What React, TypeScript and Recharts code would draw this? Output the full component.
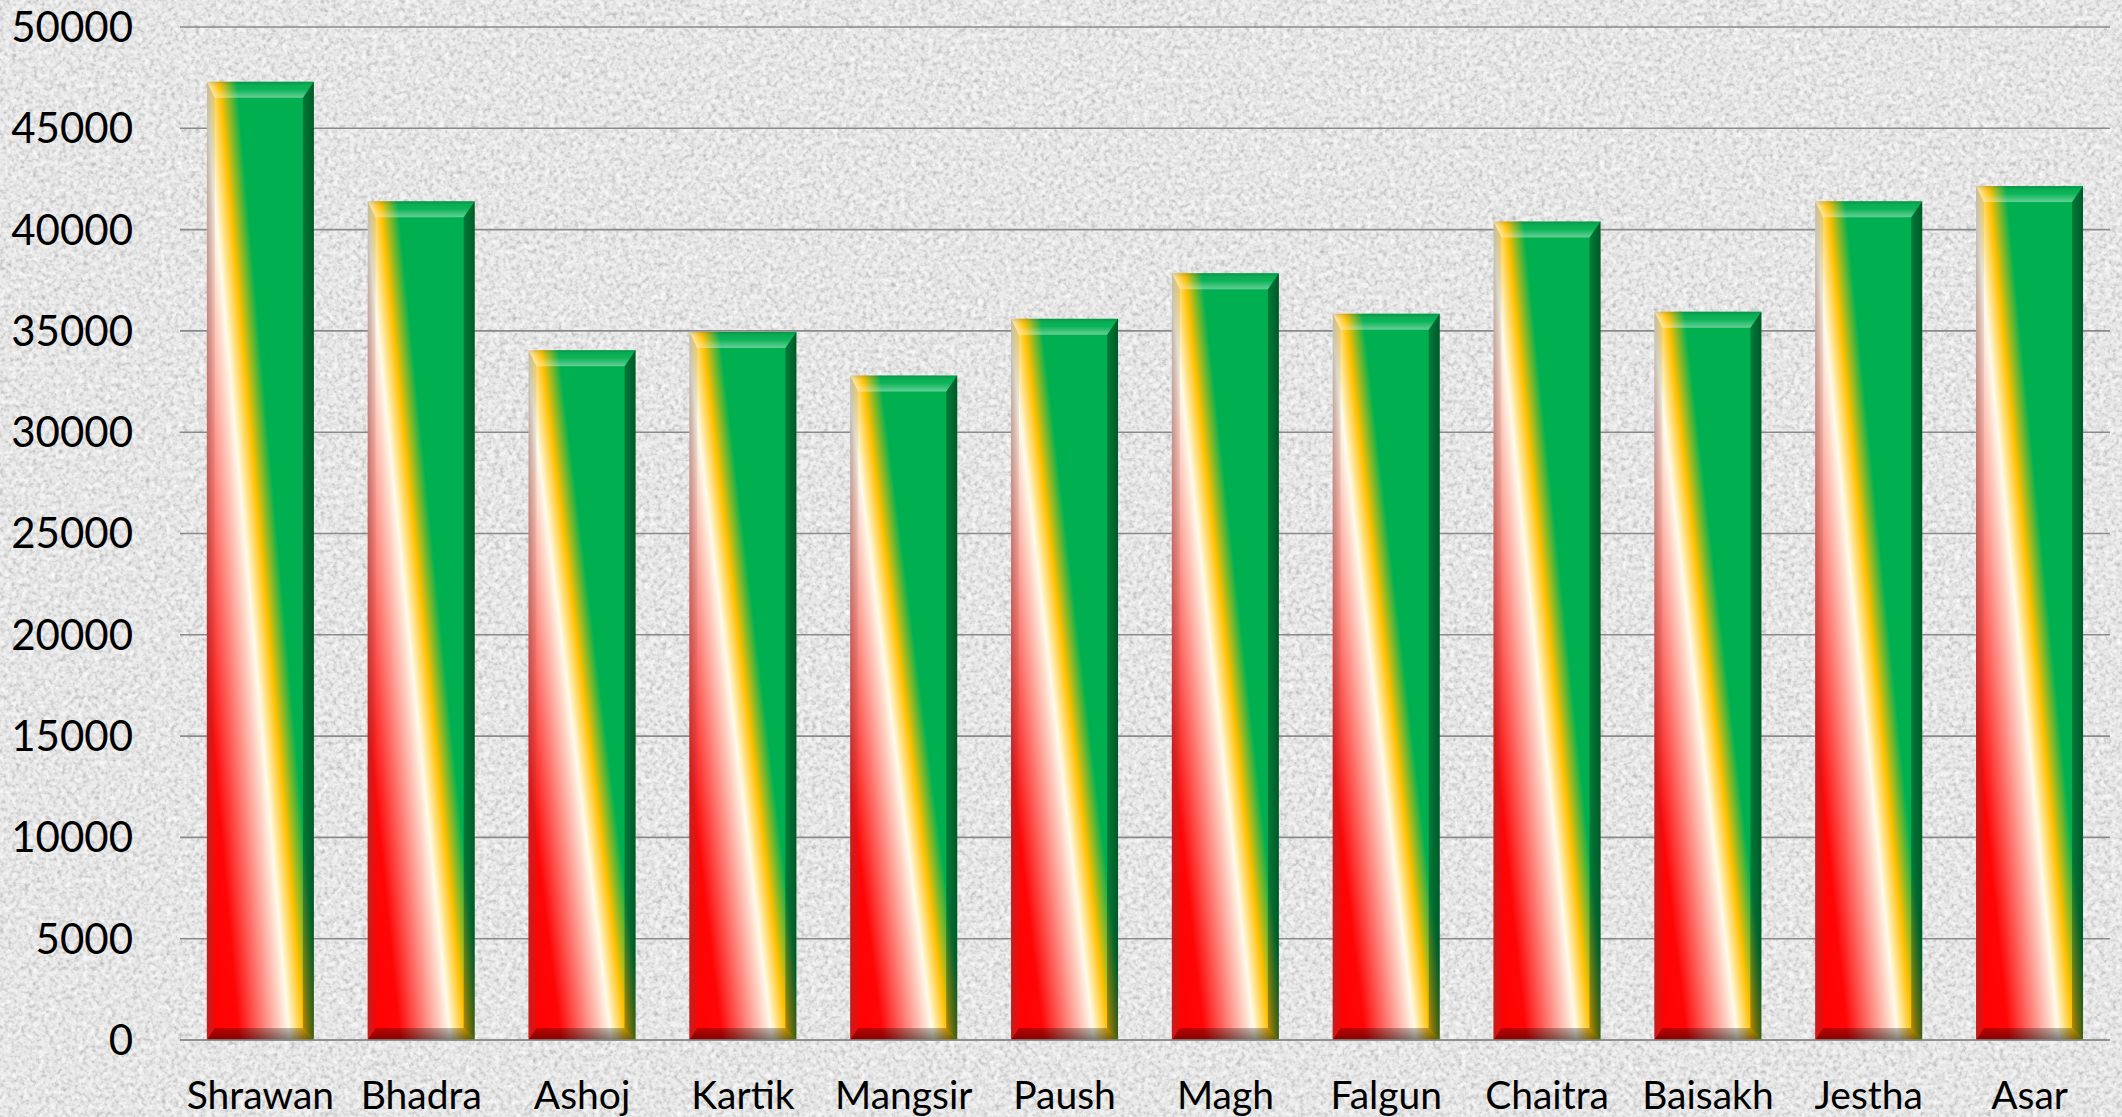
import React from 'react';
import { BarChart, Bar, XAxis, YAxis, CartesianGrid } from 'recharts';

const months = ['Shrawan', 'Bhadra', 'Ashoj', 'Kartik', 'Mangsir', 'Paush', 'Magh', 'Falgun', 'Chaitra', 'Baisakh', 'Jestha', 'Asar'];
const values = [47300, 41400, 34050, 34950, 32800, 35600, 37850, 35850, 40400, 35950, 41400, 42150];
const yTicks = [0, 5000, 10000, 15000, 20000, 25000, 30000, 35000, 40000, 45000, 50000];

const data = months.map((m, i) => ({ month: m, value: values[i] }));

const W = 2122;
const H = 1117;

const BevelBar = (props: any) => {
  const { x, y, width, height } = props;
  if (!height || height <= 0) return null;
  const bt = Math.min(16, height / 3);
  const bl = Math.min(8, width / 6);
  const br = Math.min(11, width / 5);
  const bb = Math.min(12, height / 3);
  const xr = x + width;
  const yb = y + height;
  return (
    <g>
      <rect x={x} y={y} width={width} height={height} fill="url(#barGrad)" />
      <polygon
        points={`${x},${y} ${x + bl},${y + bt} ${x + bl},${yb - bb} ${x},${yb}`}
        fill="url(#leftBevel)"
      />
      <polygon
        points={`${xr},${y} ${xr},${yb} ${xr - br},${yb - bb} ${xr - br},${y + bt}`}
        fill="url(#rightBevel)"
      />
      <polygon
        points={`${x},${yb} ${xr},${yb} ${xr - br},${yb - bb} ${x + bl},${yb - bb}`}
        fill="url(#bottomBevel)"
      />
      <polygon
        points={`${x},${y} ${xr},${y} ${xr - br},${y + bt} ${x + bl},${y + bt}`}
        fill="url(#topBevel)"
      />
    </g>
  );
};

export default function App() {
  return (
    <div
      style={{
        position: 'absolute',
        left: 0,
        top: 0,
        width: W,
        height: H,
        overflow: 'hidden',
        background: '#e8e8e8',
      }}
    >
      <svg width={W} height={H} style={{ position: 'absolute', left: 0, top: 0 }}>
        <filter id="grain" x="0" y="0" width="100%" height="100%">
          <feTurbulence type="fractalNoise" baseFrequency="0.24" numOctaves="3" seed="7" result="n" />
          <feColorMatrix
            in="n"
            type="matrix"
            values="0 0 0 0 0.45  0 0 0 0 0.45  0 0 0 0 0.45  1.9 0 0 0 -0.8"
          />
        </filter>
        <filter id="grain2" x="0" y="0" width="100%" height="100%">
          <feTurbulence type="fractalNoise" baseFrequency="0.18" numOctaves="2" seed="19" result="n" />
          <feColorMatrix
            in="n"
            type="matrix"
            values="0 0 0 0 1  0 0 0 0 1  0 0 0 0 1  0 1.8 0 0 -0.75"
          />
        </filter>
        <rect x={0} y={0} width={W} height={H} filter="url(#grain)" />
        <rect x={0} y={0} width={W} height={H} filter="url(#grain2)" />
      </svg>
      <div style={{ position: 'absolute', left: 0, top: 0 }}>
        <BarChart
          width={W}
          height={H}
          data={data}
          margin={{ top: 27, right: 12, bottom: 0, left: 0 }}
          barCategoryGap="16.7%"
        >
          <defs>
            <linearGradient id="barGrad" x1="0" y1="1" x2="1.0976" y2="0.122">
              <stop offset="0" stopColor="#ff0000" />
              <stop offset="0.17" stopColor="#ff0606" />
              <stop offset="0.43" stopColor="#fffbea" />
              <stop offset="0.51" stopColor="#ffc000" />
              <stop offset="0.6" stopColor="#00b050" />
              <stop offset="1" stopColor="#00b050" />
            </linearGradient>
            <linearGradient id="topBevel" x1="0" y1="0" x2="0" y2="1">
              <stop offset="0" stopColor="#000" stopOpacity={0.15} />
              <stop offset="0.45" stopColor="#fff" stopOpacity={0.03} />
              <stop offset="1" stopColor="#fff" stopOpacity={0.4} />
            </linearGradient>
            <linearGradient id="leftBevel" x1="0" y1="0" x2="1" y2="0">
              <stop offset="0" stopColor="#555" stopOpacity={0.35} />
              <stop offset="1" stopColor="#555" stopOpacity={0.1} />
            </linearGradient>
            <linearGradient id="rightBevel" x1="0" y1="0" x2="1" y2="0">
              <stop offset="0" stopColor="#000" stopOpacity={0.3} />
              <stop offset="1" stopColor="#000" stopOpacity={0.5} />
            </linearGradient>
            <linearGradient id="bottomBevel" x1="0" y1="0" x2="0" y2="1">
              <stop offset="0" stopColor="#000" stopOpacity={0.25} />
              <stop offset="1" stopColor="#000" stopOpacity={0.5} />
            </linearGradient>
          </defs>
          <CartesianGrid vertical={false} stroke="#8a8a8a" strokeWidth={1.6} />
          <XAxis
            dataKey="month"
            height={77}
            interval={0}
            tickLine={false}
            tickSize={0}
            tickMargin={41}
            axisLine={{ stroke: '#8a8a8a', strokeWidth: 1.6 }}
            tick={{ fill: '#000', fontSize: 39, fontFamily: 'Lato' }}
          />
          <YAxis
            width={180}
            domain={[0, 50000]}
            ticks={yTicks}
            interval={0}
            axisLine={false}
            tickLine={false}
            tickSize={0}
            tickMargin={47}
            tick={{ fill: '#000', fontSize: 42, fontFamily: 'Lato' }}
          />
          <Bar dataKey="value" shape={BevelBar} isAnimationActive={false} />
        </BarChart>
      </div>
    </div>
  );
}
